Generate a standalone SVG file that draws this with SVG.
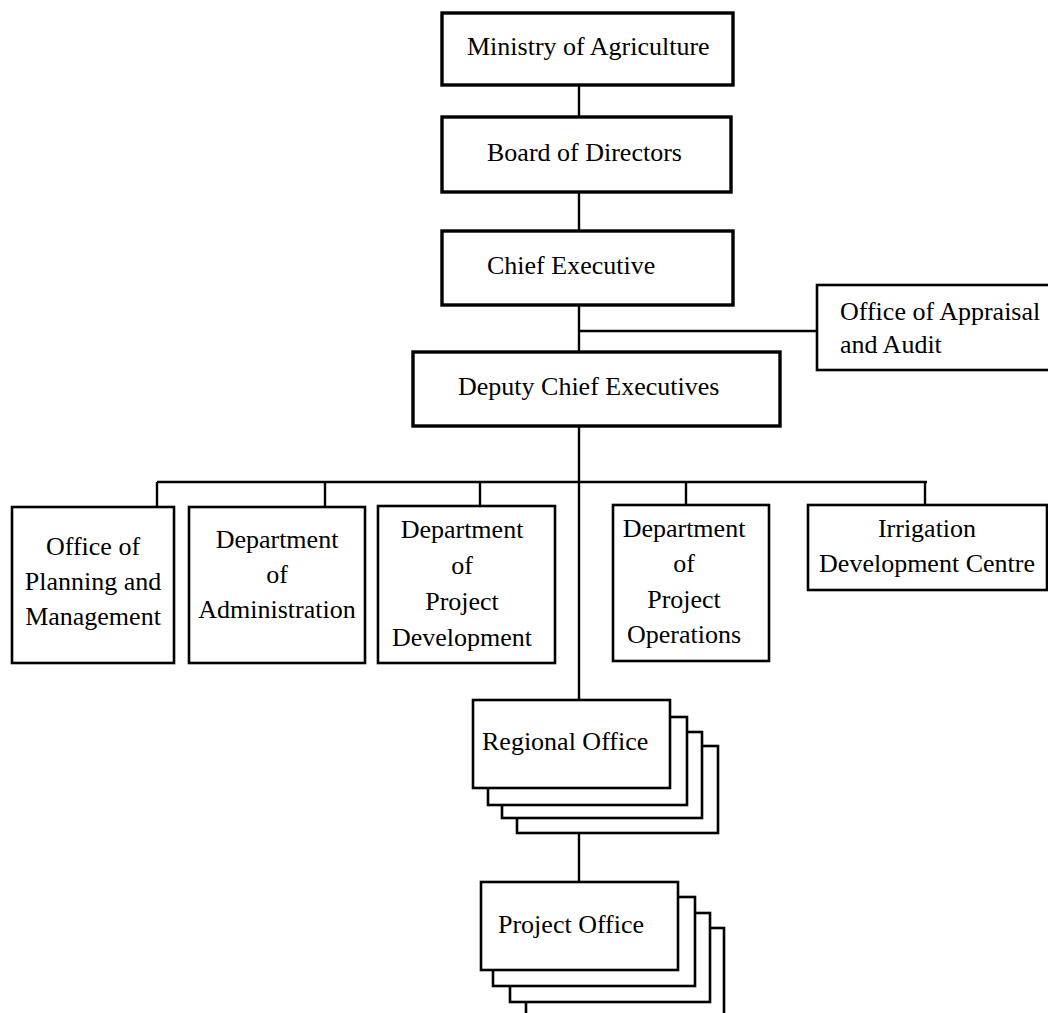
<svg xmlns="http://www.w3.org/2000/svg" width="1048" height="1013" viewBox="0 0 1048 1013">
<style>
.box{fill:#fff;stroke:#000;stroke-width:2.6}
.bold{stroke-width:3.4}
.ln{fill:none;stroke:#000;stroke-width:2.4}
text{font-family:"Liberation Serif","Times New Roman",serif;font-size:26px;fill:#000}
.c{text-anchor:middle}
</style>
<rect width="1048" height="1013" fill="#fff"/>
<g id="connectors">
<path class="ln" d="M579 85V117M579 192V231M579 305V352M579 331H817M579 426V700M157 482H927M157 482V507M325 482V507M480 482V506M686 482V505M925 482V505M579 833V882"/>
</g>
<g id="ministry">
<rect class="box bold" x="442" y="13" width="291" height="72"/>
<text x="467" y="55">Ministry of Agriculture</text>
</g>
<g id="board">
<rect class="box bold" x="442" y="117" width="289" height="75"/>
<text x="487" y="161">Board of Directors</text>
</g>
<g id="chief">
<rect class="box bold" x="442" y="231" width="291" height="74"/>
<text x="487" y="274">Chief Executive</text>
</g>
<g id="appraisal">
<rect class="box" x="817" y="285" width="240" height="85"/>
<text x="840" y="320">Office of Appraisal</text>
<text x="840" y="353">and Audit</text>
</g>
<g id="deputy">
<rect class="box bold" x="413" y="352" width="367" height="74"/>
<text x="458" y="395">Deputy Chief Executives</text>
</g>
<g id="planning">
<rect class="box" x="12" y="507" width="162" height="156"/>
<text class="c" x="93" y="555">Office of</text>
<text class="c" x="93" y="590">Planning and</text>
<text class="c" x="93" y="625">Management</text>
</g>
<g id="administration">
<rect class="box" x="189" y="507" width="176" height="156"/>
<text class="c" x="277" y="548">Department</text>
<text class="c" x="277" y="583">of</text>
<text class="c" x="277" y="618">Administration</text>
</g>
<g id="projdev">
<rect class="box" x="378" y="506" width="177" height="157"/>
<text class="c" x="462" y="538">Department</text>
<text class="c" x="462" y="574">of</text>
<text class="c" x="462" y="610">Project</text>
<text class="c" x="462" y="646">Development</text>
</g>
<g id="projops">
<rect class="box" x="613" y="505" width="156" height="156"/>
<text class="c" x="684" y="537">Department</text>
<text class="c" x="684" y="572">of</text>
<text class="c" x="684" y="608">Project</text>
<text class="c" x="684" y="643">Operations</text>
</g>
<g id="irrigation">
<rect class="box" x="808" y="505" width="239" height="85"/>
<text class="c" x="927" y="537">Irrigation</text>
<text class="c" x="927" y="572">Development Centre</text>
</g>
<g id="regional">
<rect class="box" x="517" y="746" width="201" height="87"/>
<rect class="box" x="502" y="732" width="200" height="86"/>
<rect class="box" x="488" y="717" width="199" height="88"/>
<rect class="box" x="473" y="700" width="197" height="88"/>
<text x="482" y="750">Regional Office</text>
</g>
<g id="project">
<rect class="box" x="526" y="928" width="198" height="100"/>
<rect class="box" x="510" y="913" width="200" height="89"/>
<rect class="box" x="493" y="897" width="202" height="89"/>
<rect class="box" x="481" y="882" width="197" height="88"/>
<text x="498" y="933">Project Office</text>
</g>
</svg>
